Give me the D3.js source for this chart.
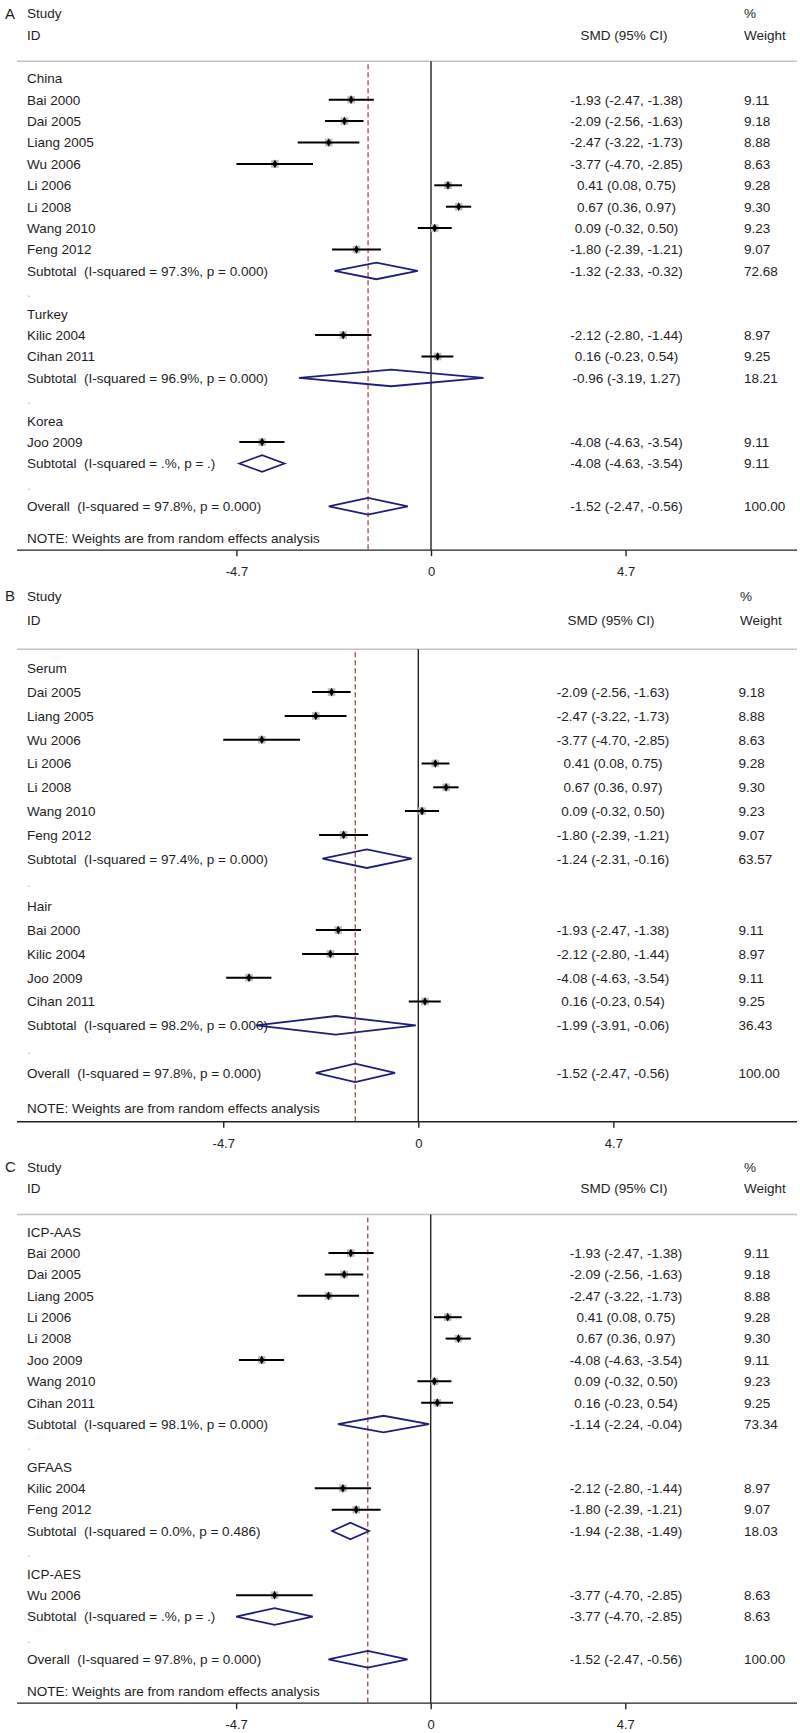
<!DOCTYPE html>
<html>
<head>
<meta charset="utf-8">
<script src="https://cdn.jsdelivr.net/npm/d3@7"></script>
<style>
  html, body { margin: 0; padding: 0; background: #fff; }
  svg { display: block; }
  text { font-family: "Liberation Sans", Arial, sans-serif; fill: #1e1e1e; }
</style>
</head>
<body>
<svg id="chart" width="800" height="1733"></svg>
<script>
// ---------------- DATA ----------------
const tickValues = [-4.7, 0, 4.7];
const tickLabels = ["-4.7", "0", "4.7"];
const overallLine = -1.52;

// Panel A: by country
const labelsA = ["China","Bai 2000","Dai 2005","Liang 2005","Wu 2006","Li 2006","Li 2008","Wang 2010","Feng 2012",
  "Subtotal  (I-squared = 97.3%, p = 0.000)",".","Turkey","Kilic 2004","Cihan 2011",
  "Subtotal  (I-squared = 96.9%, p = 0.000)",".","Korea","Joo 2009",
  "Subtotal  (I-squared = .%, p = .)",".","Overall  (I-squared = 97.8%, p = 0.000)"];
const smdA = [null,-1.93,-2.09,-2.47,-3.77,0.41,0.67,0.09,-1.80,-1.32,null,null,-2.12,0.16,-0.96,null,null,-4.08,-4.08,null,-1.52];
const loA  = [null,-2.47,-2.56,-3.22,-4.70,0.08,0.36,-0.32,-2.39,-2.33,null,null,-2.80,-0.23,-3.19,null,null,-4.63,-4.63,null,-2.47];
const hiA  = [null,-1.38,-1.63,-1.73,-2.85,0.75,0.97,0.50,-1.21,-0.32,null,null,-1.44,0.54,1.27,null,null,-3.54,-3.54,null,-0.56];
const wtA  = [null,9.11,9.18,8.88,8.63,9.28,9.30,9.23,9.07,72.68,null,null,8.97,9.25,18.21,null,null,9.11,9.11,null,100.00];

// Panel B: by sample type
const labelsB = ["Serum","Dai 2005","Liang 2005","Wu 2006","Li 2006","Li 2008","Wang 2010","Feng 2012",
  "Subtotal  (I-squared = 97.4%, p = 0.000)",".","Hair","Bai 2000","Kilic 2004","Joo 2009","Cihan 2011",
  "Subtotal  (I-squared = 98.2%, p = 0.000)",".","Overall  (I-squared = 97.8%, p = 0.000)"];
const smdB = [null,-2.09,-2.47,-3.77,0.41,0.67,0.09,-1.80,-1.24,null,null,-1.93,-2.12,-4.08,0.16,-1.99,null,-1.52];
const loB  = [null,-2.56,-3.22,-4.70,0.08,0.36,-0.32,-2.39,-2.31,null,null,-2.47,-2.80,-4.63,-0.23,-3.91,null,-2.47];
const hiB  = [null,-1.63,-1.73,-2.85,0.75,0.97,0.50,-1.21,-0.16,null,null,-1.38,-1.44,-3.54,0.54,-0.06,null,-0.56];
const wtB  = [null,9.18,8.88,8.63,9.28,9.30,9.23,9.07,63.57,null,null,9.11,8.97,9.11,9.25,36.43,null,100.00];

// Panel C: by detection method
const labelsC = ["ICP-AAS","Bai 2000","Dai 2005","Liang 2005","Li 2006","Li 2008","Joo 2009","Wang 2010","Cihan 2011",
  "Subtotal  (I-squared = 98.1%, p = 0.000)",".","GFAAS","Kilic 2004","Feng 2012",
  "Subtotal  (I-squared = 0.0%, p = 0.486)",".","ICP-AES","Wu 2006",
  "Subtotal  (I-squared = .%, p = .)",".","Overall  (I-squared = 97.8%, p = 0.000)"];
const smdC = [null,-1.93,-2.09,-2.47,0.41,0.67,-4.08,0.09,0.16,-1.14,null,null,-2.12,-1.80,-1.94,null,null,-3.77,-3.77,null,-1.52];
const loC  = [null,-2.47,-2.56,-3.22,0.08,0.36,-4.63,-0.32,-0.23,-2.24,null,null,-2.80,-2.39,-2.38,null,null,-4.70,-4.70,null,-2.47];
const hiC  = [null,-1.38,-1.63,-1.73,0.75,0.97,-3.54,0.50,0.54,-0.04,null,null,-1.44,-1.21,-1.49,null,null,-2.85,-2.85,null,-0.56];
const wtC  = [null,9.11,9.18,8.88,9.28,9.30,9.11,9.23,9.25,73.34,null,null,8.97,9.07,18.03,null,null,8.63,8.63,null,100.00];

// ---------------- LAYOUT ----------------
const panels = [
  {letter:"A", labels:labelsA, smd:smdA, lo:loA, hi:hiA, wt:wtA,
   row0:78.3, step:21.4, zero:431, k:41.4, smdX:626.5, wtX:744, hdrSmdX:624, pctX:744},
  {letter:"B", labels:labelsB, smd:smdB, lo:loB, hi:hiB, wt:wtB,
   row0:668.3, step:23.8, zero:418.3, k:41.5, smdX:613, wtX:738.5, hdrSmdX:611, pctX:740},
  {letter:"C", labels:labelsC, smd:smdC, lo:loC, hi:hiC, wt:wtC,
   row0:1231.7, step:21.38, zero:430.7, k:41.4, smdX:626, wtX:744, hdrSmdX:624, pctX:744}
];

const FS = 13.5;          // font size
const BASE = 4.8;         // centre -> baseline offset
const lineX0 = 17, lineX1 = 797;
const navy = "#1f1f78";
const fmt = d3.formatLocale({decimal:".", thousands:",", grouping:[3], currency:["",""], minus:"-"}).format(".2f");

const svg = d3.select("#chart");

panels.forEach(p => {
  const g = svg.append("g");
  const n = p.labels.length;
  const y = d3.scaleLinear().domain([0, 1]).range([p.row0, p.row0 + p.step]);
  const x = d3.scaleLinear().domain([-4.7, 4.7]).range([p.zero - 4.7 * p.k, p.zero + 4.7 * p.k]);

  const overallIdx = n - 1;
  const yStudy = y(-3.03), yID = y(-2.02), yTop = y(-0.8);
  const yNote = y(overallIdx + 1.5), yAxis = y(overallIdx + 2.05);

  // header
  g.append("text").attr("x", 5).attr("y", yStudy + 5.3).style("font-size", "15px").text(p.letter);
  g.append("text").attr("x", 27).attr("y", yStudy + BASE).style("font-size", FS + "px").text("Study");
  g.append("text").attr("x", 27).attr("y", yID + BASE).style("font-size", FS + "px").text("ID");
  g.append("text").attr("x", p.hdrSmdX).attr("y", yID + BASE).attr("text-anchor", "middle")
    .style("font-size", FS + "px").text("SMD (95% CI)");
  g.append("text").attr("x", p.pctX).attr("y", yStudy + BASE).style("font-size", FS + "px").text("%");
  g.append("text").attr("x", p.pctX).attr("y", yID + BASE).style("font-size", FS + "px").text("Weight");

  // top grey rule
  g.append("line").attr("x1", lineX0).attr("x2", lineX1).attr("y1", yTop).attr("y2", yTop)
    .attr("stroke", "#c4c4c4").attr("stroke-width", 1.5);

  // zero line
  g.append("line").attr("x1", x(0)).attr("x2", x(0)).attr("y1", yTop).attr("y2", yAxis)
    .attr("stroke", "#222").attr("stroke-width", 1.4);
  // overall effect dashed line
  g.append("line").attr("x1", x(overallLine)).attr("x2", x(overallLine)).attr("y1", yTop + 3).attr("y2", yAxis)
    .attr("stroke", "#a84848").attr("stroke-width", 1.3).attr("stroke-dasharray", "5,3");

  const rows = p.labels.map((lab, i) => ({
    i, lab, smd: p.smd[i], lo: p.lo[i], hi: p.hi[i], wt: p.wt[i],
    kind: lab === "." ? "gap" : lab.startsWith("Subtotal") || lab.startsWith("Overall") ? "pool"
        : (p.smd[i] === null ? "group" : "study")
  }));

  // row labels
  g.selectAll("text.lab").data(rows).enter().append("text")
    .attr("class", "lab")
    .attr("x", 27).attr("y", d => y(d.i) + BASE)
    .style("font-size", FS + "px")
    .style("fill", d => d.kind === "gap" ? "#bbb" : "#1e1e1e")
    .style("white-space", "pre")
    .attr("xml:space", "preserve")
    .text(d => d.lab);

  // SMD text
  const vals = rows.filter(d => d.smd !== null);
  g.selectAll("text.smd").data(vals).enter().append("text")
    .attr("x", p.smdX).attr("y", d => y(d.i) + BASE).attr("text-anchor", "middle")
    .style("font-size", FS + "px")
    .text(d => `${fmt(d.smd)} (${fmt(d.lo)}, ${fmt(d.hi)})`);
  g.selectAll("text.wt").data(vals).enter().append("text")
    .attr("x", p.wtX).attr("y", d => y(d.i) + BASE)
    .style("font-size", FS + "px")
    .text(d => d.wt.toFixed(2));

  // studies: CI lines + boxes + dots
  const studies = rows.filter(d => d.kind === "study");
  g.selectAll("rect.box").data(studies).enter().append("rect")
    .attr("x", d => x(d.smd) - 3.8).attr("y", d => y(d.i) - 3.8)
    .attr("width", 7.6).attr("height", 7.6)
    .attr("fill", "#bdbdbd");
  g.selectAll("line.ci").data(studies).enter().append("line")
    .attr("x1", d => x(d.lo)).attr("x2", d => x(d.hi))
    .attr("y1", d => y(d.i)).attr("y2", d => y(d.i))
    .attr("stroke", "#000").attr("stroke-width", 2);
  g.selectAll("path.dot").data(studies).enter().append("path")
    .attr("transform", d => `translate(${x(d.smd)},${y(d.i)})`)
    .attr("d", d3.symbol().type(d3.symbolDiamond).size(22))
    .attr("fill", "#000");

  // pooled diamonds
  const pools = rows.filter(d => d.kind === "pool");
  const h = p.step * 0.39;
  g.selectAll("path.dia").data(pools).enter().append("path")
    .attr("d", d => {
      const yy = y(d.i);
      return `M${x(d.lo)},${yy}L${x(d.smd)},${yy - h}L${x(d.hi)},${yy}L${x(d.smd)},${yy + h}Z`;
    })
    .attr("fill", "none").attr("stroke", navy).attr("stroke-width", 1.8).attr("stroke-linejoin", "miter");

  // note
  g.append("text").attr("x", 27).attr("y", yNote + BASE).style("font-size", FS + "px")
    .text("NOTE: Weights are from random effects analysis");

  // axis
  g.append("line").attr("x1", lineX0).attr("x2", lineX1).attr("y1", yAxis).attr("y2", yAxis)
    .attr("stroke", "#222").attr("stroke-width", 1.4);
  const axis = d3.axisBottom(x).tickValues(tickValues).tickSize(6).tickPadding(11)
    .tickFormat((d, i) => tickLabels[i]);
  const ag = g.append("g").attr("transform", `translate(0,${yAxis})`).call(axis);
  ag.select(".domain").remove();
  ag.selectAll(".tick line").attr("stroke", "#222").attr("stroke-width", 1.4);
  ag.selectAll(".tick text").style("font-size", "13px").style("fill", "#1e1e1e")
    .attr("font-family", null);
});
</script>
</body>
</html>
